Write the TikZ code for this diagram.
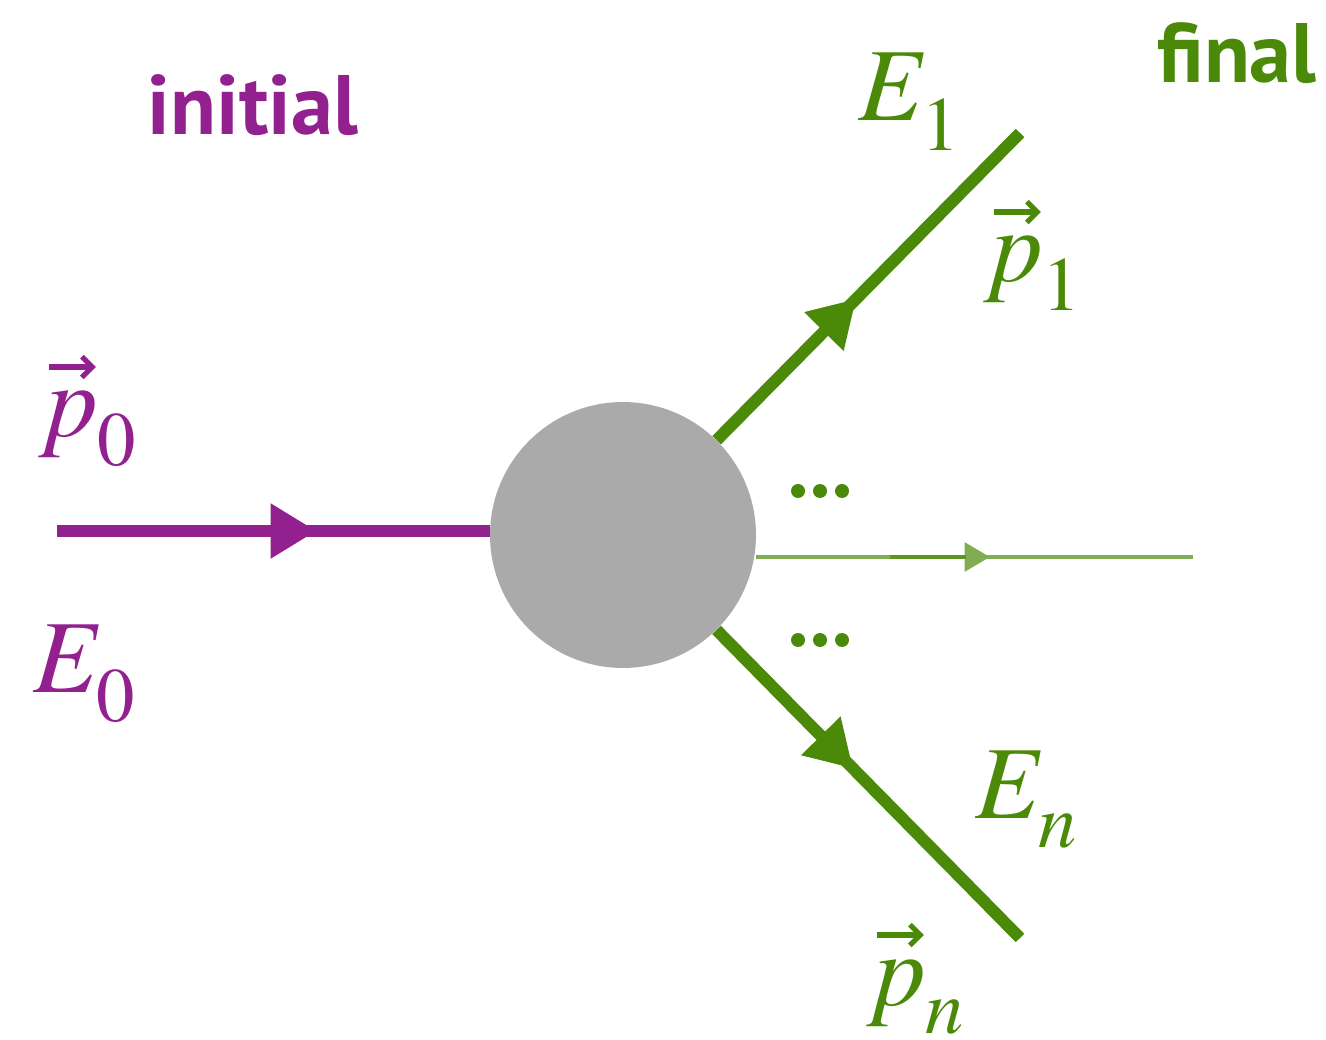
\documentclass[tikz,border=0pt]{standalone}
\usepackage[no-math]{fontspec}
\usepackage{mathptmx}
\newfontfamily\ptsans{PT Sans}
\usetikzlibrary{arrows.meta,decorations.markings}
\definecolor{purp}{RGB}{147,32,143}
\definecolor{grn}{RGB}{75,138,8}
\definecolor{glight}{RGB}{129,173,82}
\definecolor{gdark}{RGB}{93,150,30}
\definecolor{blob}{RGB}{170,170,170}
\newcommand\vecp{\mathord{\rlap{\kern0.08em\raisebox{0.55em}{\tikz\draw[line width=0.05em,-{Straight Barb[length=0.1em,width=0.2em]}] (0,0)--(0.45em,0);}}p}}
\newcommand\lsub[1]{_{\raisebox{-0.13em}{$\scriptstyle #1$}}}
\newcommand\psub[1]{_{\raisebox{-0.03em}{$\scriptstyle #1$}}}
\begin{document}
\begin{tikzpicture}[x=0.02cm,y=-0.02cm,
  mlbl/.style={inner sep=0pt, anchor=base west, font=\fontsize{59}{62}\selectfont},
  wlbl/.style={inner sep=0pt, anchor=base, font=\ptsans\bfseries\fontsize{48}{52}\selectfont},
  thick line/.style={line width=0.24cm},
  midarrow/.style 2 args={postaction={decorate}, decoration={markings,
     mark=at position #1 with {\arrow{Triangle[length=#2*0.92cm,width=#2*1.04cm]}}}},
  dot/.style={circle, fill=grn, inner sep=0pt, minimum size=0.28cm}]
\useasboundingbox (0,0) rectangle (1326,1040);
% blob
\node[circle, fill=blob, minimum size=5.32cm, inner sep=0pt] (c) at (623,535) {};
% coordinates
\coordinate (in) at (57,531);
\coordinate (o1) at (1020,133);
\coordinate (on) at (1020,938);
\coordinate (ol) at (1193,557);
\coordinate (dk1) at (890,557);
\coordinate (dk2) at (966,557);
% incoming
\draw[thick line, purp, midarrow={0.6}{1}] (in) -- (in -| c.west);
% outgoing
\draw[thick line, grn, midarrow={0.46}{1}] (c) -- (o1);
\draw[thick line, grn, midarrow={0.45}{1}] (c) -- (on);
\draw[line width=0.08cm, glight, midarrow={0.535}{0.55}] (c.east |- ol) -- (ol);
\draw[line width=0.08cm, gdark] (dk1) -- (dk2);
% dots
\foreach \x [count=\i] in {798,820,842} {
  \node[dot] (ua\i) at (\x,491) {};
  \node[dot] (la\i) at (\x,640) {};
}
% labels
\node[wlbl, text=purp] (init) at (253,135) {initial};
\node[wlbl, text=grn] (fin) at (1237,83) {final};
\node[mlbl, text=purp] (p0) at (38,437) {$\vecp\psub{0}$};
\node[mlbl, text=purp] (E0) at (33,692) {$E\lsub{0}$};
\node[mlbl, text=grn] (E1) at (858,121) {$E\lsub{1}$};
\node[mlbl, text=grn] (p1) at (983,282) {$\vecp\psub{1}$};
\node[mlbl, text=grn] (En) at (975,818) {$E\lsub{n}$};
\node[mlbl, text=grn] (pn) at (866,1005) {$\vecp\psub{n}$};
\end{tikzpicture}
\end{document}
